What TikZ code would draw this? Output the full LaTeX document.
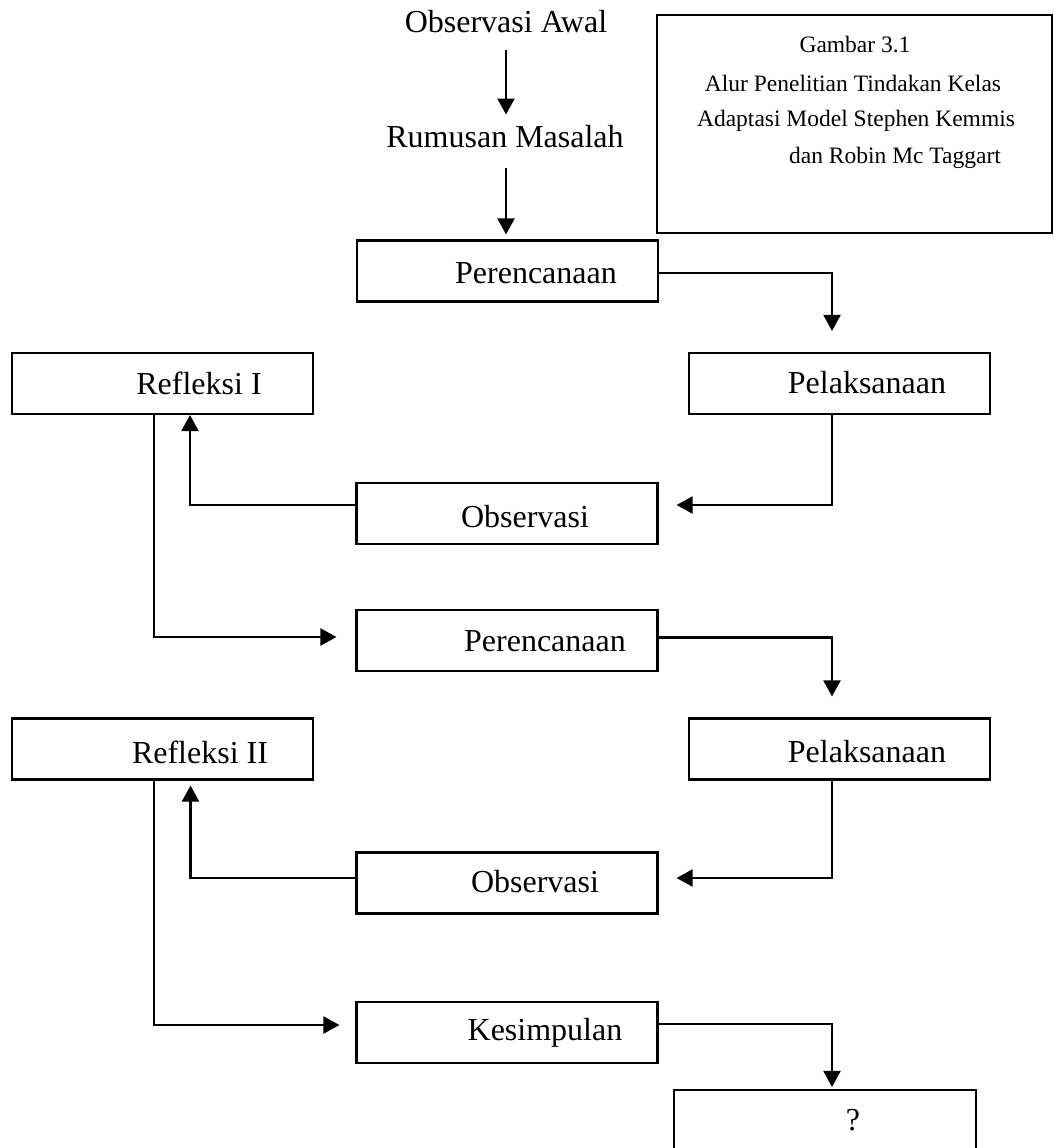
\documentclass[tikz,border=0pt]{standalone}
\usepackage{fontspec}
\setmainfont{Liberation Serif}
\usetikzlibrary{arrows.meta}
\begin{document}
\begin{tikzpicture}[x=1pt,y=-1pt,
  box/.style={draw,line width=2.1pt,minimum width=301pt,minimum height=61pt,inner sep=0pt},
  lbl/.style={inner sep=0pt,font=\fontsize{32}{36}\selectfont},
  captxt/.style={inner sep=0pt,font=\fontsize{23.5}{28}\selectfont},
  arr/.style={line width=2.1pt,-{Triangle[length=16pt,width=17pt]}}]
\useasboundingbox (0,0) rectangle (1053,1148);
\clip (0,0) rectangle (1053,1148);
% caption box
\node[draw,line width=2.1pt,minimum width=395pt,minimum height=218pt,inner sep=0pt] (capbox) at (854.5,124) {};
\node[captxt] (c1) at (855,45) {Gambar 3.1};
\node[captxt] (c2) at (853,83) {Alur Penelitian Tindakan Kelas};
\node[captxt] (c3) at (856,121) {Adaptasi Model Stephen Kemmis};
\node[captxt] (c4) at (895,158) {dan Robin Mc Taggart};
% top texts
\node[lbl] (oa) at (506,22) {Observasi Awal};
\node[lbl] (rm) at (505,137) {Rumusan Masalah};
% boxes
\node[box] (p1) at (507.5,271) {};
\node[lbl] (p1t) at (536,273) {Perencanaan};
\node[box] (pl1) at (839.5,383.5) {};
\node[lbl] (pl1t) at (867,383) {Pelaksanaan};
\node[box] (r1) at (162.5,383.5) {};
\node[lbl] (r1t) at (199,383) {Refleksi I};
\node[box] (o1) at (507,513.5) {};
\node[lbl] (o1t) at (525,517) {Observasi};
\node[box] (p2) at (507,640.5) {};
\node[lbl] (p2t) at (545,641) {Perencanaan};
\node[box] (r2) at (162.5,749) {};
\node[lbl] (r2t) at (200,752) {Refleksi II};
\node[box] (pl2) at (839.5,749) {};
\node[lbl] (pl2t) at (867,752) {Pelaksanaan};
\node[box] (o2) at (507,883) {};
\node[lbl] (o2t) at (535,882) {Observasi};
\node[box] (k) at (507,1032.5) {};
\node[lbl] (kt) at (545,1033) {Kesimpulan};
\node[draw,line width=2.1pt,minimum width=302pt,minimum height=80pt,inner sep=0pt] (q) at (825,1130) {};
\node[lbl] (qt) at (853,1120) {?};
% connectors
\draw[arr,shorten <=17pt,shorten >=11pt] (oa.south) -- (oa.south |- rm.north);
\draw[arr,shorten <=20pt,shorten >=5pt] (oa.south |- rm.south) -- (oa.south |- p1.north);
\draw[arr,shorten >=21pt] ([yshift=-2pt]p1.east) -| ([xshift=-7.5pt]pl1.north);
\draw[arr,shorten >=18pt] ([xshift=-7.5pt]pl1.south) |- ([yshift=8.5pt]o1.east);
\draw[arr] ([yshift=8.5pt]o1.west) -| ([xshift=27.5pt]r1.south);
\draw[arr,shorten >=19pt] ([xshift=-8.5pt]r1.south) |- ([yshift=3.5pt]p2.west);
\draw[arr,shorten >=21pt] ([yshift=3pt]p2.east) -| ([xshift=-7.5pt]pl2.north);
\draw[arr,shorten >=18pt] ([xshift=-7.5pt]pl2.south) |- ([yshift=5pt]o2.east);
\draw[arr,shorten >=5pt] ([yshift=5pt]o2.west) -| ([xshift=28pt]r2.south);
\draw[arr,shorten >=16pt] ([xshift=-8.5pt]r2.south) |- ([yshift=7.5pt]k.west);
\draw[arr,shorten >=2pt] ([yshift=8.5pt]k.east) -| ([xshift=7pt]q.north);
\end{tikzpicture}
\end{document}
